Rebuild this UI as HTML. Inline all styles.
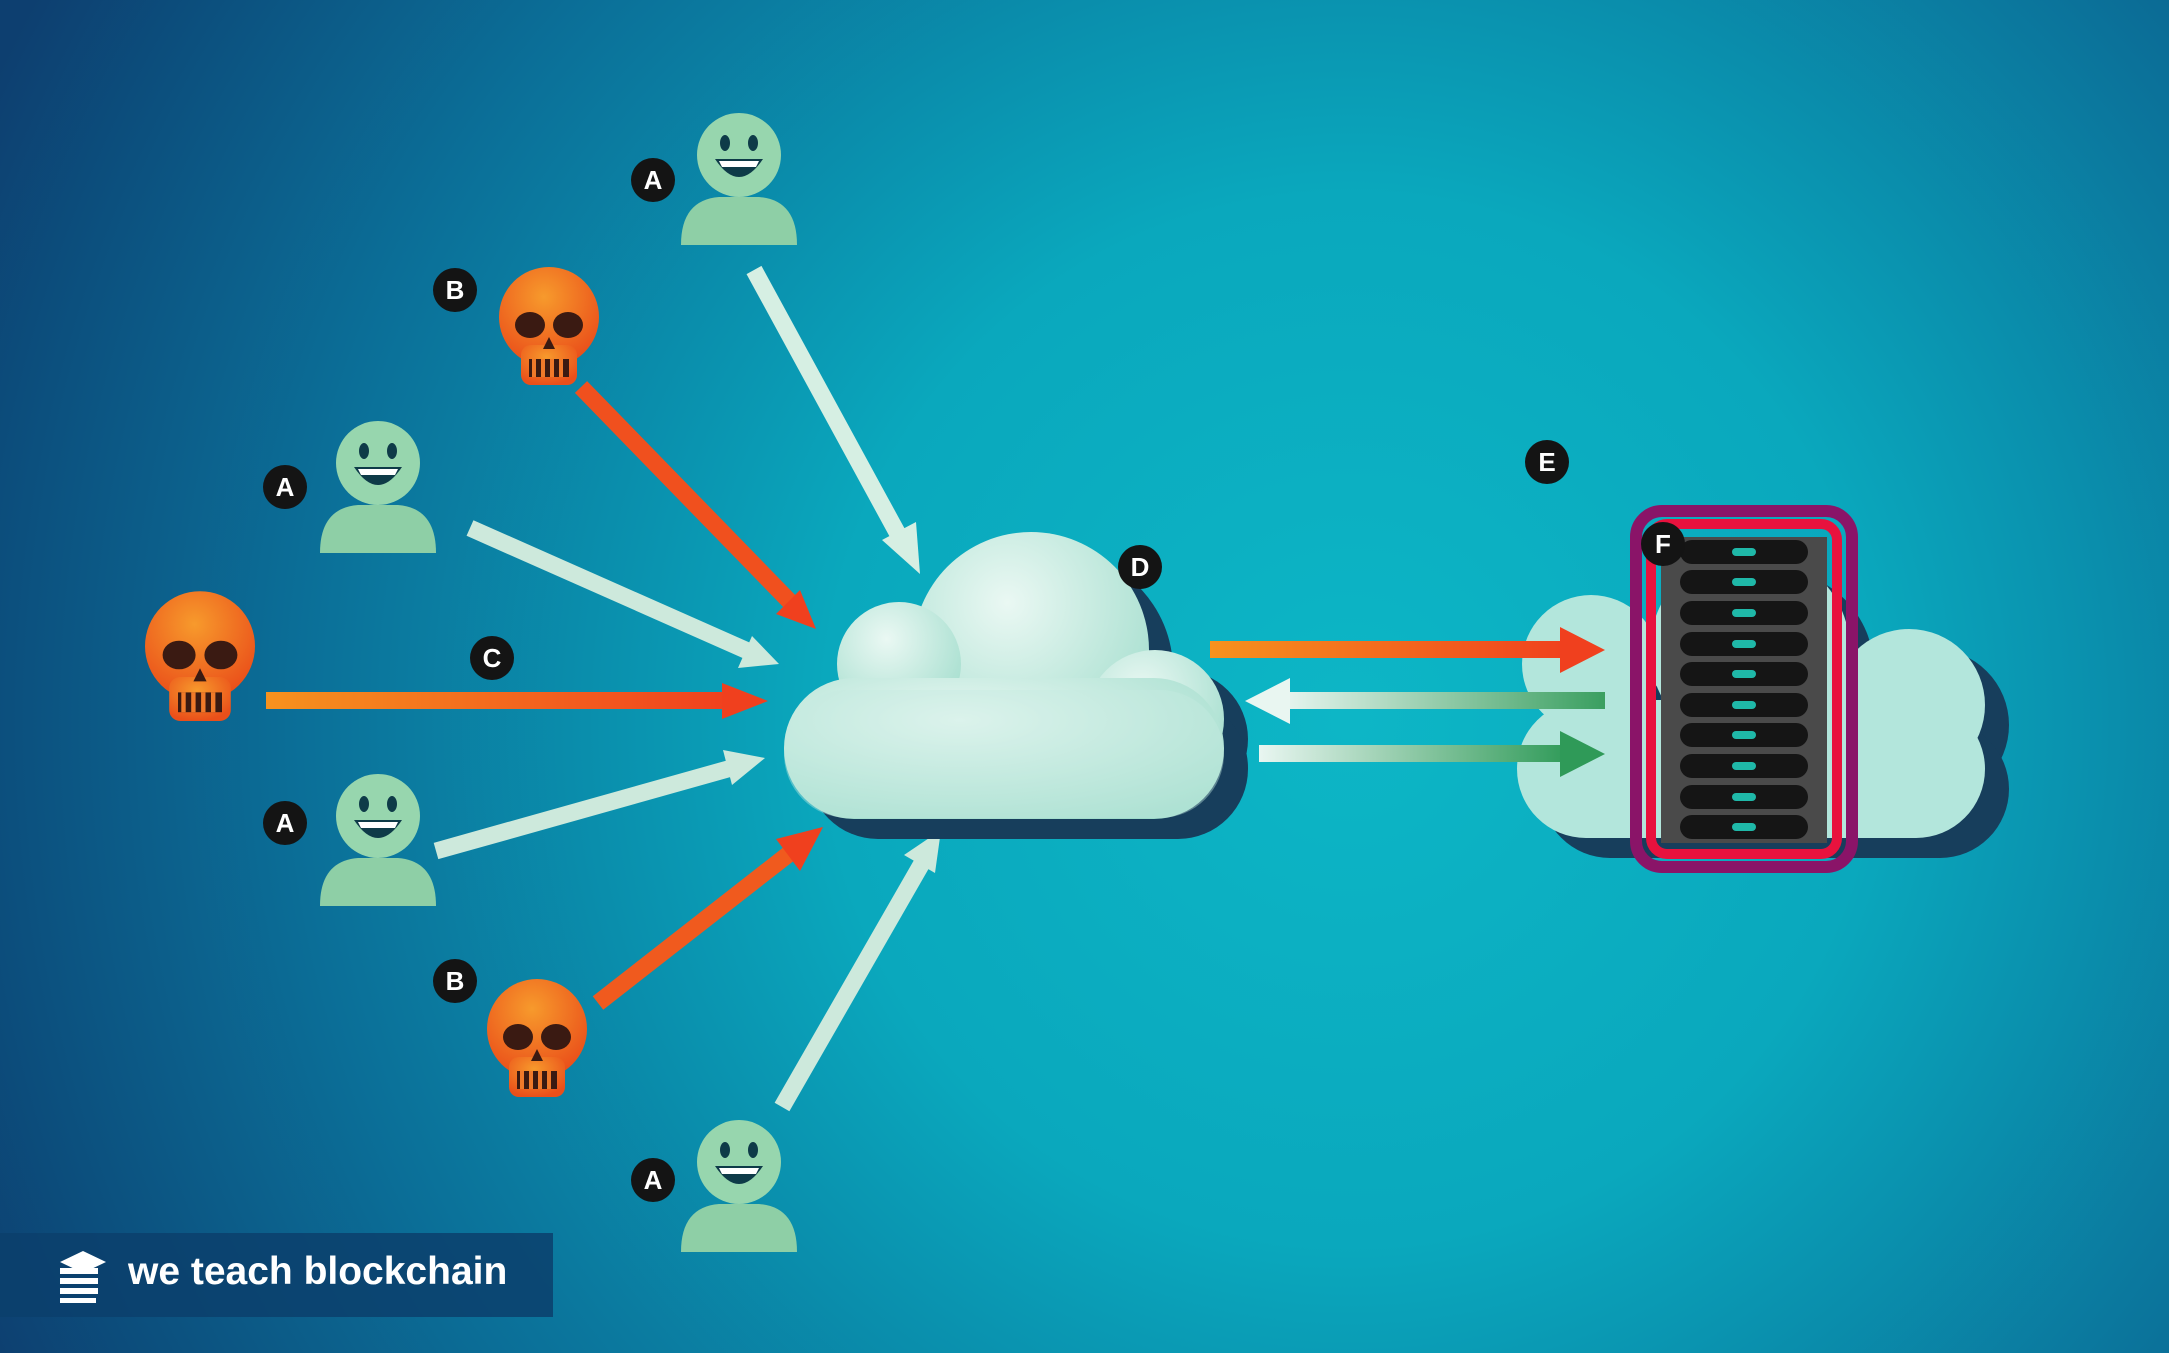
<!DOCTYPE html>
<html><head><meta charset="utf-8"><style>
html,body{margin:0;padding:0;width:2169px;height:1353px;overflow:hidden}
</style></head><body>
<svg width="2169" height="1353" viewBox="0 0 2169 1353" xmlns="http://www.w3.org/2000/svg" font-family="Liberation Sans, sans-serif">
<defs>
<radialGradient id="bg" cx="1350" cy="720" r="1500" gradientUnits="userSpaceOnUse">
<stop offset="0" stop-color="#0db6c6"/><stop offset="0.35" stop-color="#0aa8bd"/><stop offset="0.7" stop-color="#0b6f98"/><stop offset="1" stop-color="#0d3f70"/>
</radialGradient>
<linearGradient id="og" x1="0" x2="1"><stop offset="0" stop-color="#f7921e"/><stop offset="1" stop-color="#f0401e"/></linearGradient>
<linearGradient id="gr" x1="0" x2="1"><stop offset="0" stop-color="#e9f6f1"/><stop offset="1" stop-color="#2f9a58"/></linearGradient>
<linearGradient id="gl" x1="0" x2="1"><stop offset="0" stop-color="#e9f6f1"/><stop offset="1" stop-color="#3a9f60"/></linearGradient>
<radialGradient id="cl" cx="0.4" cy="0.3" r="0.8"><stop offset="0" stop-color="#eaf8f3"/><stop offset="1" stop-color="#9fdccb"/></radialGradient>
<radialGradient id="sk" cx="0.45" cy="0.3" r="0.7"><stop offset="0" stop-color="#f79a2c"/><stop offset="1" stop-color="#ea4f1a"/></radialGradient>
<g id="smile">
<path d="M-58,90 Q-58,45 -20,42 L20,42 Q58,45 58,90 Z" fill="#8ecfa6"/>
<circle cx="0" cy="0" r="42" fill="#97d6ae"/>
<ellipse cx="-14" cy="-12" rx="5" ry="8" fill="#0e3b48"/>
<ellipse cx="14" cy="-12" rx="5" ry="8" fill="#0e3b48"/>
<path d="M-24,4 Q0,40 24,4 Z" fill="#0e3b48"/>
<path d="M-20,6 L20,6 L17,12 L-17,12 Z" fill="#fff"/>
</g>
<g id="skull">
<circle cx="0" cy="-8" r="50" fill="url(#sk)"/>
<rect x="-28" y="20" width="56" height="40" rx="10" fill="url(#sk)"/>
<ellipse cx="-19" cy="0" rx="15" ry="13" fill="#3a1a12"/>
<ellipse cx="19" cy="0" rx="15" ry="13" fill="#3a1a12"/>
<path d="M-6,24 L0,12 L6,24 Z" fill="#3a1a12"/>
<rect x="-20" y="34" width="40" height="18" fill="#3a1a12"/>
<path d="M-15,34v18M-6,34v18M3,34v18M12,34v18" stroke="#f07a2a" stroke-width="4"/>
</g>
<g id="lab"><circle r="22" fill="#141414"/></g>
</defs>
<rect width="2169" height="1353" fill="url(#bg)"/>

<!-- arrows -->
<g stroke-width="17" fill="none">
<line x1="754" y1="270" x2="905" y2="547" stroke="#d6efe3"/>
<line x1="581" y1="387" x2="795" y2="607" stroke="#f0501e"/>
<line x1="470" y1="528" x2="750" y2="652" stroke="#cde9dc"/>
<line x1="436" y1="851" x2="735" y2="767" stroke="#cde9dc"/>
<line x1="598" y1="1003" x2="790" y2="853" stroke="#f05a1e"/>
<line x1="782" y1="1107" x2="925" y2="858" stroke="#cde9dc"/>
</g>
<rect x="266" y="692" width="464" height="17" fill="url(#og)"/>
<g>
<polygon points="920,574 882,540 916,522" fill="#d6efe3"/>
<polygon points="816,629 776,614 800,590" fill="#f0401e"/>
<polygon points="779,664 738,668 752,636" fill="#cde9dc"/>
<polygon points="768,701 722,683 722,719" fill="#f0401e"/>
<polygon points="765,758 732,785 723,750" fill="#cde9dc"/>
<polygon points="823,827 800,871 776,839" fill="#f0401e"/>
<polygon points="941,830 935,873 904,855" fill="#cde9dc"/>
</g>

<!-- Cloud D -->
<g fill="#173e5c" transform="translate(24,20)">
<circle cx="1031" cy="650" r="118"/><circle cx="899" cy="664" r="62"/><circle cx="1155" cy="719" r="69"/>
<rect x="784" y="678" width="440" height="141" rx="70"/>
</g>
<g fill="url(#cl)">
<circle cx="1031" cy="650" r="118"/><circle cx="899" cy="664" r="62"/><circle cx="1155" cy="719" r="69"/>
<rect x="784" y="678" width="440" height="141" rx="70"/>
</g>
<g fill="#c6ece2"><rect x="784" y="690" width="440" height="128" rx="64" opacity="0.4"/></g>

<!-- right cloud -->
<g fill="#173e5c" transform="translate(24,20)">
<circle cx="1750" cy="650" r="100"/><circle cx="1591" cy="664" r="69"/><circle cx="1909" cy="705" r="76"/>
<rect x="1517" y="700" width="468" height="138" rx="69"/>
</g>
<g fill="#b3e6dc">
<circle cx="1750" cy="650" r="100"/><circle cx="1591" cy="664" r="69"/><circle cx="1909" cy="705" r="76"/>
<rect x="1517" y="700" width="468" height="138" rx="69"/>
</g>

<!-- right arrows -->
<rect x="1210" y="641" width="360" height="17" fill="url(#og)"/>
<rect x="1280" y="692" width="325" height="17" fill="url(#gl)"/>
<rect x="1259" y="745" width="311" height="17" fill="url(#gr)"/>
<polygon points="1605,650 1560,627 1560,673" fill="#f0401e"/>
<polygon points="1245,701 1290,678 1290,724" fill="#e9f6f1"/>
<polygon points="1605,754 1560,731 1560,777" fill="#2f9a58"/>

<!-- server -->
<rect x="1636" y="511" width="216" height="356" rx="26" fill="none" stroke="#8a1468" stroke-width="12"/>
<rect x="1651" y="524" width="186" height="330" rx="16" fill="none" stroke="#e8123e" stroke-width="10"/>
<rect x="1661" y="537" width="166" height="306" fill="#4a4a4a"/>
<g fill="#151515">
<rect x="1680" y="540" width="128" height="24" rx="12"/><rect x="1680" y="570" width="128" height="24" rx="12"/>
<rect x="1680" y="601" width="128" height="24" rx="12"/><rect x="1680" y="632" width="128" height="24" rx="12"/>
<rect x="1680" y="662" width="128" height="24" rx="12"/><rect x="1680" y="693" width="128" height="24" rx="12"/>
<rect x="1680" y="723" width="128" height="24" rx="12"/><rect x="1680" y="754" width="128" height="24" rx="12"/>
<rect x="1680" y="785" width="128" height="24" rx="12"/><rect x="1680" y="815" width="128" height="24" rx="12"/>
</g>
<g fill="#1fb8a8">
<rect x="1732" y="548" width="24" height="8" rx="4"/><rect x="1732" y="578" width="24" height="8" rx="4"/>
<rect x="1732" y="609" width="24" height="8" rx="4"/><rect x="1732" y="640" width="24" height="8" rx="4"/>
<rect x="1732" y="670" width="24" height="8" rx="4"/><rect x="1732" y="701" width="24" height="8" rx="4"/>
<rect x="1732" y="731" width="24" height="8" rx="4"/><rect x="1732" y="762" width="24" height="8" rx="4"/>
<rect x="1732" y="793" width="24" height="8" rx="4"/><rect x="1732" y="823" width="24" height="8" rx="4"/>
</g>

<!-- people -->
<use href="#smile" x="739" y="155"/>
<use href="#smile" x="378" y="463"/>
<use href="#smile" x="378" y="816"/>
<use href="#smile" x="739" y="1162"/>
<use href="#skull" x="549" y="325"/>
<use href="#skull" transform="translate(200,655) scale(1.1)"/>
<use href="#skull" x="537" y="1037"/>

<!-- labels -->
<g fill="#fff" font-size="26" font-weight="bold" text-anchor="middle">
<use href="#lab" x="653" y="180"/><text x="653" y="189">A</text>
<use href="#lab" x="455" y="290"/><text x="455" y="299">B</text>
<use href="#lab" x="285" y="487"/><text x="285" y="496">A</text>
<use href="#lab" x="492" y="658"/><text x="492" y="667">C</text>
<use href="#lab" x="285" y="823"/><text x="285" y="832">A</text>
<use href="#lab" x="455" y="981"/><text x="455" y="990">B</text>
<use href="#lab" x="653" y="1180"/><text x="653" y="1189">A</text>
<use href="#lab" x="1140" y="567"/><text x="1140" y="576">D</text>
<use href="#lab" x="1547" y="462"/><text x="1547" y="471">E</text>
<use href="#lab" x="1663" y="544"/><text x="1663" y="553">F</text>
</g>

<!-- logo -->
<rect x="0" y="1233" width="553" height="84" fill="#0c3f6c" opacity="0.85"/>
<g fill="#fff">
<polygon points="60,1262 83,1251 106,1262 83,1273"/>
<rect x="60" y="1268" width="38" height="6"/><rect x="60" y="1278" width="38" height="6"/><rect x="60" y="1288" width="38" height="6"/><rect x="60" y="1298" width="36" height="5"/>
</g>
<text x="128" y="1284" fill="#fff" font-size="39" font-weight="bold">we teach blockchain</text>
</svg>
</body></html>
